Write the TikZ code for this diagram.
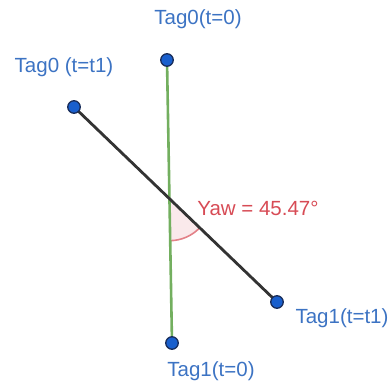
\documentclass[tikz,border=0pt]{standalone}
\usepackage{fontspec}
\setmainfont{Liberation Sans}
\usetikzlibrary{angles}
\definecolor{tagblue}{RGB}{25,95,205}
\definecolor{tagedge}{RGB}{25,45,90}
\definecolor{labelblue}{RGB}{60,115,195}
\definecolor{axisgreen}{RGB}{115,175,95}
\definecolor{yawred}{RGB}{215,75,85}
\begin{document}
\begin{tikzpicture}[x=1pt, y=1pt,
  tagpt/.style={circle, draw=tagedge, fill=tagblue, line width=1.3pt, inner sep=0pt, minimum size=12.5pt},
  taglabel/.style={text=labelblue, font=\fontsize{20.5}{24}\selectfont, inner sep=0pt}]
  \useasboundingbox (0,0) rectangle (391,387);
  % 태그 위치: t=0 (초록), t=t1 (검정)
  \coordinate (t0z) at (167,327);
  \coordinate (t1z) at (172,44);
  \coordinate (t0o) at (74,280);
  \coordinate (t1o) at (277,85);
  \coordinate (o) at (intersection of t0z--t1z and t0o--t1o);
  % 요 각도
  \pic[draw=yawred!70, fill=yawred!12, line width=1.6pt, angle radius=42pt] {angle=t1z--o--t1o};
  % 두 선
  \draw[axisgreen, line width=2.6pt] (t0z) -- (t1z);
  \draw[black!80, line width=2.8pt] (t0o) -- (t1o);
  % 점
  \node[tagpt] (p0z) at (t0z) {};
  \node[tagpt] (p1z) at (t1z) {};
  \node[tagpt] (p0o) at (t0o) {};
  \node[tagpt] (p1o) at (t1o) {};
  % 글자
  \node[taglabel] (l0z) at (198,368) {Tag0(t=0)};
  \node[taglabel] (l0o) at (64,320) {Tag0 (t=t1)};
  \node[taglabel] (l1o) at (342,69) {Tag1(t=t1)};
  \node[taglabel] (l1z) at (211,16) {Tag1(t=0)};
  \node[taglabel, text=yawred] (yaw) at (258,179) {Yaw = 45.47°};
\end{tikzpicture}
\end{document}
